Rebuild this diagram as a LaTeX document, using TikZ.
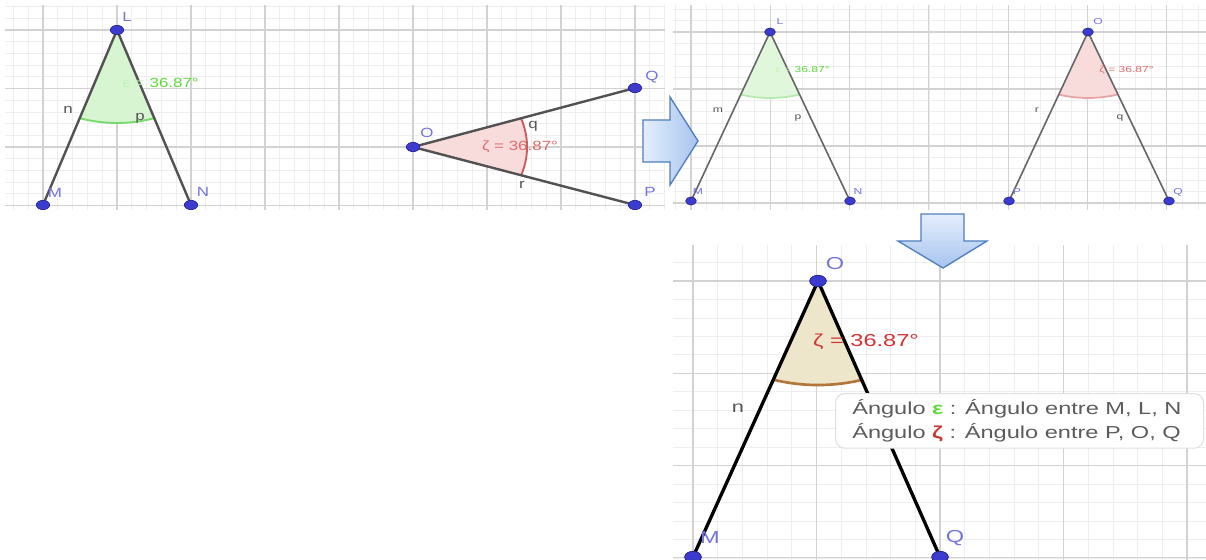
\documentclass[tikz,border=0pt]{standalone}
\usepackage{fontspec}
\usepackage{graphicx}
\setmainfont{Liberation Sans}
\usetikzlibrary{calc,shapes.geometric}
\definecolor{majorgrid}{HTML}{D2D2D2}
\definecolor{minorgrid}{HTML}{EEEEEE}
\definecolor{ptfill}{HTML}{3B3BD0}
\definecolor{ptdraw}{HTML}{25258F}
\definecolor{ptlabel}{HTML}{7474DA}
\definecolor{seglabel}{HTML}{555555}
\definecolor{grnfill}{HTML}{D8F5D2}
\definecolor{grnarc}{HTML}{74DB6C}
\definecolor{grntext}{HTML}{5FD93A}
\definecolor{redfill}{HTML}{F8DCDC}
\definecolor{redarc}{HTML}{CF5A5A}
\definecolor{redtext}{HTML}{E06A6A}
\definecolor{tanfill}{HTML}{EEE6CB}
\definecolor{tanarc}{HTML}{B3763A}
\definecolor{deepred}{HTML}{D03434}
\definecolor{tipgray}{HTML}{5C5C5C}
\definecolor{arrowA}{HTML}{E4EEFC}
\definecolor{arrowB}{HTML}{A7C4EF}
\definecolor{arrowline}{HTML}{4F7FBE}
\newcommand\hx[2]{\scalebox{#1}[1]{#2}}
\tikzset{
  minorline/.style={draw=minorgrid, line width=0.6pt},
  majorline/.style={draw=majorgrid, line width=0.8pt},
  segA/.style={draw=black!68, line width=1.8pt},
  segB/.style={draw=black!60, line width=1.2pt},
  segC/.style={draw=black, line width=2.5pt},
  dotA/.style={ellipse, fill=ptfill, draw=ptdraw, line width=0.5pt, minimum width=10pt, minimum height=7pt, inner sep=0pt},
  dotB/.style={ellipse, fill=ptfill, draw=ptdraw, line width=0.5pt, minimum width=8pt, minimum height=6pt, inner sep=0pt},
  dotC/.style={ellipse, fill=ptfill, draw=ptdraw, line width=0.6pt, minimum width=12.5pt, minimum height=8.5pt, inner sep=0pt},
  lblA/.style={text=ptlabel, font=\fontsize{10}{12}\selectfont, inner sep=0pt},
  lblB/.style={text=ptlabel, font=\fontsize{6.5}{8}\selectfont, inner sep=0pt},
  lblC/.style={text=ptlabel, font=\fontsize{13}{15}\selectfont, inner sep=0pt},
  sgA/.style={text=seglabel, font=\fontsize{10}{12}\selectfont, inner sep=0pt},
  sgB/.style={text=seglabel, font=\fontsize{6.5}{8}\selectfont, inner sep=0pt},
  sgC/.style={text=seglabel, font=\fontsize{12}{14}\selectfont, inner sep=0pt},
  arrowbox/.style={draw=arrowline, line width=1pt, line join=miter},
  tipbox/.style={draw=black!12, fill=white, rounded corners=7pt, line width=0.8pt},
  tiptext/.style={text=tipgray, font=\fontsize{13}{15}\selectfont, inner sep=0pt, anchor=west},
}
\begin{document}
\begin{tikzpicture}[x=0.75pt,y=0.75pt]
\useasboundingbox[fill=white] (0,0) rectangle (1206,-560);

% ---------- panel 1 grid ----------
\begin{scope}
\clip (5,-5) rectangle (665,-210);
\foreach \k in {-3,...,42} \draw[minorline] ({43+14.8*\k},-5) -- ({43+14.8*\k},-210);
\foreach \k in {-3,...,16} \draw[minorline] (5,{-30-11.7*\k}) -- (665,{-30-11.7*\k});
\foreach \k in {-1,...,9} \draw[majorline] ({43+74*\k},-5) -- ({43+74*\k},-210);
\foreach \k in {-1,...,4} \draw[majorline] (5,{-30-58.5*\k}) -- (665,{-30-58.5*\k});
\end{scope}
% ---------- panel 2 grid ----------
\begin{scope}
\clip (673,-5) rectangle (1206,-210);
\foreach \k in {-2,...,33} \draw[minorline] ({691+15.86*\k},-5) -- ({691+15.86*\k},-210);
\foreach \k in {-3,...,16} \draw[minorline] (673,{-32-11.4*\k}) -- (1206,{-32-11.4*\k});
\foreach \k in {-1,...,7} \draw[majorline] ({691+79.3*\k},-5) -- ({691+79.3*\k},-210);
\foreach \k in {-1,...,4} \draw[majorline] (673,{-32-57*\k}) -- (1206,{-32-57*\k});
\end{scope}
% ---------- panel 3 grid ----------
\begin{scope}
\clip (673,-245) rectangle (1206,-560);
\foreach \k in {-1,...,22} \draw[minorline] ({693+24.7*\k},-245) -- ({693+24.7*\k},-560);
\foreach \k in {-2,...,15} \draw[minorline] (673,{-281-18.46*\k}) -- (1206,{-281-18.46*\k});
\foreach \k in {-1,...,5} \draw[majorline] ({693+123.5*\k},-245) -- ({693+123.5*\k},-560);
\foreach \k in {-1,...,3} \draw[majorline] (673,{-281-92.3*\k}) -- (1206,{-281-92.3*\k});
\end{scope}

% ---------- coordinates ----------
\coordinate (L1) at (117,-30);
\coordinate (M1) at (43,-205);
\coordinate (N1) at (191,-205);
\coordinate (O1) at (413,-147);
\coordinate (Q1) at (635,-88);
\coordinate (P1) at (635,-205);
\coordinate (L2) at (770,-32);
\coordinate (M2) at (691,-201);
\coordinate (N2) at (850,-201);
\coordinate (O2) at (1088,-32);
\coordinate (P2) at (1009,-201);
\coordinate (Q2) at (1169,-201);
\coordinate (O3) at (818,-281);
\coordinate (M3) at (693,-557);
\coordinate (Q3) at (940,-557);

% ---------- sectors ----------
\fill[grnfill] (L1) -- ++(-37.3,-88.2) arc[start angle=-108.43, end angle=-71.57, x radius=118, y radius=93] -- cycle;
\fill[redfill] (O1) -- ++(108.2,-28.2) arc[start angle=-18.43, end angle=18.43, x radius=114, y radius=89.3] -- cycle;
\fill[grnfill!80] (L2) -- ++(-29.1,-62.6) arc[start angle=-108.43, end angle=-71.57, x radius=92, y radius=66] -- cycle;
\fill[redfill] (O2) -- ++(-29.1,-62.6) arc[start angle=-108.43, end angle=-71.57, x radius=92, y radius=66] -- cycle;
\fill[tanfill] (O3) -- ++(-44.6,-98.7) arc[start angle=-108.43, end angle=-71.57, x radius=141, y radius=104] -- cycle;

\draw[grnarc, line width=1.4pt] ($(L1)+(-37.3,-88.2)$) arc[start angle=-108.43, end angle=-71.57, x radius=118, y radius=93];
\draw[redarc, line width=1.4pt] ($(O1)+(108.2,-28.2)$) arc[start angle=-18.43, end angle=18.43, x radius=114, y radius=89.3];
\draw[grnarc!55, line width=1.3pt] ($(L2)+(-29.1,-62.6)$) arc[start angle=-108.43, end angle=-71.57, x radius=92, y radius=66];
\draw[redarc!55, line width=1.3pt] ($(O2)+(-29.1,-62.6)$) arc[start angle=-108.43, end angle=-71.57, x radius=92, y radius=66];
\draw[tanarc, line width=2pt] ($(O3)+(-44.6,-98.7)$) arc[start angle=-108.43, end angle=-71.57, x radius=141, y radius=104];

% ---------- segments ----------
\draw[segA] (L1) -- (M1);
\draw[segA] (L1) -- (N1);
\draw[segA] (O1) -- (Q1);
\draw[segA] (O1) -- (P1);
\draw[segB] (L2) -- (M2);
\draw[segB] (L2) -- (N2);
\draw[segB] (O2) -- (P2);
\draw[segB] (O2) -- (Q2);
\draw[segC] (O3) -- (M3);
\draw[segC] (O3) -- (Q3);

% ---------- points ----------
\node[dotA] (dL1) at (L1) {};
\node[dotA] (dM1) at (M1) {};
\node[dotA] (dN1) at (N1) {};
\node[dotA] (dO1) at (O1) {};
\node[dotA] (dQ1) at (Q1) {};
\node[dotA] (dP1) at (P1) {};
\node[dotB] (dL2) at (L2) {};
\node[dotB] (dM2) at (M2) {};
\node[dotB] (dN2) at (N2) {};
\node[dotB] (dO2) at (O2) {};
\node[dotB] (dP2) at (P2) {};
\node[dotB] (dQ2) at (Q2) {};
\node[dotC] (dO3) at (O3) {};
\node[dotC] (dM3) at (M3) {};
\node[dotC] (dQ3) at (Q3) {};

% ---------- panel 1 labels ----------
\node[lblA] (tL1) at (127,-17) {\hx{1.27}{L}};
\node[lblA] (tM1) at (55,-193) {\hx{1.27}{M}};
\node[lblA] (tN1) at (203,-192) {\hx{1.27}{N}};
\node[sgA] (tn1) at (68,-110) {\hx{1.27}{n}};
\node[sgA] (tp1) at (140,-118) {\hx{1.27}{p}};
\node[text=grntext, font=\fontsize{10}{12}\selectfont, inner sep=0pt, anchor=east] (eps1) at (199,-83) {\hx{1.27}{\textcolor{grntext!35}{ε =} 36.87°}};
\node[lblA] (tO1) at (427,-133) {\hx{1.27}{O}};
\node[lblA] (tQ1) at (652,-77) {\hx{1.27}{Q}};
\node[lblA] (tP1) at (650,-192) {\hx{1.27}{P}};
\node[sgA] (tq1) at (533,-126) {\hx{1.27}{q}};
\node[sgA] (tr1) at (522,-185) {\hx{1.27}{r}};
\node[text=redtext, font=\fontsize{10}{12}\selectfont, inner sep=0pt] (zeta1) at (520,-147) {\hx{1.27}{ζ = 36.87°}};

% ---------- panel 2 labels ----------
\node[lblB] (tL2) at (780,-22) {\hx{1.4}{L}};
\node[lblB] (tM2) at (698,-192) {\hx{1.4}{M}};
\node[lblB] (tN2) at (858,-192) {\hx{1.4}{N}};
\node[sgB] (tm2) at (718,-110) {\hx{1.4}{m}};
\node[sgB] (tp2) at (798,-118) {\hx{1.4}{p}};
\node[text=grntext, font=\fontsize{6.5}{8}\selectfont, inner sep=0pt, anchor=east] (eps2) at (830,-70) {\hx{1.4}{\textcolor{grntext!35}{ε =} 36.87°}};
\node[lblB] (tO2) at (1098,-22) {\hx{1.4}{O}};
\node[lblB] (tP2) at (1017,-192) {\hx{1.4}{P}};
\node[lblB] (tQ2) at (1178,-192) {\hx{1.4}{Q}};
\node[sgB] (tr2) at (1037,-110) {\hx{1.4}{r}};
\node[sgB] (tq2) at (1120,-118) {\hx{1.4}{q}};
\node[text=redtext, font=\fontsize{6.5}{8}\selectfont, inner sep=0pt, anchor=east] (zeta2) at (1154,-70) {\hx{1.4}{ζ = 36.87°}};

% ---------- panel 3 labels ----------
\node[lblC] (tO3) at (835,-264) {\hx{1.36}{O}};
\node[lblC] (tM3) at (710,-538) {\hx{1.36}{M}};
\node[lblC] (tQ3) at (955,-538) {\hx{1.36}{Q}};
\node[sgC] (tn3) at (738,-408) {\hx{1.36}{n}};
\node[text=deepred, font=\fontsize{13}{15}\selectfont, inner sep=0pt] (zeta3) at (866,-342) {\hx{1.36}{ζ = 36.87°}};

% ---------- tooltip ----------
\node[tipbox, anchor=north west, minimum width=276pt, minimum height=41pt] (tip) at (835,-393) {};
\node[tiptext] (tipA) at (852,-409) {\hx{1.36}{Ángulo \textcolor{grntext}{\textbf{ε}} : Ángulo entre M, L, N}};
\node[tiptext] (tipB) at (852,-433) {\hx{1.36}{Ángulo \textcolor{deepred}{\textbf{ζ}} : Ángulo entre P, O, Q}};

% ---------- block arrows ----------
\draw[arrowbox, left color=arrowA, right color=arrowB]
  (643,-120) -- (670,-120) -- (670,-97) -- (698,-141) -- (670,-185) -- (670,-162) -- (643,-162) -- cycle;
\draw[arrowbox, top color=arrowA, bottom color=arrowB]
  (921,-214) -- (964,-214) -- (964,-241) -- (987,-241) -- (943,-268) -- (898,-241) -- (921,-241) -- cycle;
\end{tikzpicture}
\end{document}
